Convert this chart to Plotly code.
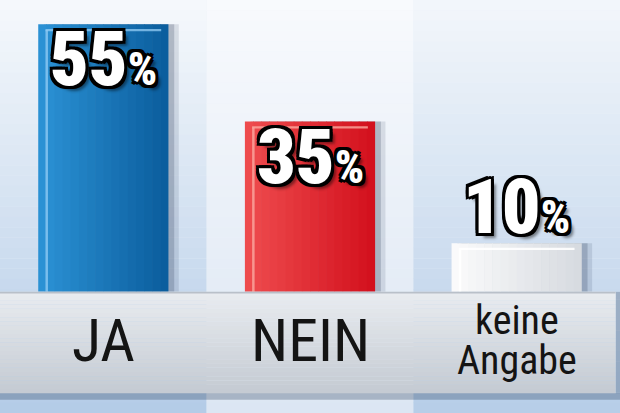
import plotly.graph_objects as go

# --- data -------------------------------------------------------------
categories = ["JA", "NEIN", "keine\nAngabe"]
values = [55, 35, 10]
value_text = ["55", "35", "10"]

# --- styling ----------------------------------------------------------
W, H = 620, 413
y_max, y_min = 60, -24.9
bar_w = 0.63
n_slices = 16

bar_left = ["#2c93d6", "#ef4d4f", "#fbfbfc"]
bar_right = ["#0a5c9c", "#d20f1c", "#d6dadf"]
stripe_col = ["rgba(150,205,245,0.75)", "rgba(250,170,160,0.8)", "rgba(255,255,255,0.9)"]
FONT = "Roboto Condensed, Roboto, sans-serif"


def hx(s):
    return tuple(int(s[i:i + 2], 16) for i in (1, 3, 5))


def mix(c1, c2, t):
    a, b = hx(c1), hx(c2)
    return "#%02x%02x%02x" % tuple(round(p + (q - p) * t) for p, q in zip(a, b))


fig = go.Figure()

# soft shadow right of the bars
for dx, op in [(0.05, 0.12), (0.028, 0.2)]:
    fig.add_trace(go.Bar(
        x=categories, y=values, offset=-bar_w / 2 + dx, width=bar_w,
        marker=dict(color="rgba(25,40,70,%s)" % op, line=dict(width=0)),
        hoverinfo="skip", showlegend=False))

# bars, drawn as thin vertical slices to get the glossy gradient
for i in range(n_slices):
    t = (i + 0.5) / n_slices
    w = bar_w / n_slices + (0.003 if i < n_slices - 1 else 0)
    fig.add_trace(go.Bar(
        x=categories, y=values, offset=-bar_w / 2 + i * bar_w / n_slices, width=w,
        marker=dict(color=[mix(l, r, t) for l, r in zip(bar_left, bar_right)],
                    line=dict(width=0)),
        hoverinfo="skip", showlegend=False))

# light vertical stripe near the left edge
fig.add_trace(go.Bar(
    x=categories, y=[v - 1.2 for v in values], offset=-bar_w / 2 + 0.035, width=0.012,
    marker=dict(color=stripe_col, line=dict(width=0)),
    hoverinfo="skip", showlegend=False))
# light line along the top
fig.add_trace(go.Bar(
    x=categories, y=[0.45] * len(values), base=[v - 1.4 for v in values],
    offset=-bar_w / 2 + 0.035, width=bar_w - 0.07,
    marker=dict(color=stripe_col, line=dict(width=0)),
    hoverinfo="skip", showlegend=False))

shapes = []

# background columns with vertical gradient
col_top = ["#f6f9fc", "#f8fafd", "#f3f7fb"]
col_bot = ["#b3cbe7", "#dce6f3", "#b6cde8"]
n_bands = 40
for c in range(3):
    for j in range(n_bands):
        y0 = y_max - (y_max - y_min) * j / n_bands
        y1 = y_max - (y_max - y_min) * (j + 1) / n_bands
        shapes.append(dict(type="rect", xref="x", yref="y", layer="below",
                           x0=c - 0.5, x1=c + 0.5, y0=y0, y1=y1 - 0.05,
                           fillcolor=mix(col_top[c], col_bot[c], (j + 0.5) / n_bands),
                           line=dict(width=0)))

# grey label band below the bars
band_top, band_bot = 0, -20.8
shapes.append(dict(type="rect", xref="paper", yref="y", layer="above",
                   x0=0, x1=1.0, y0=band_bot - 1.4, y1=band_bot,
                   fillcolor="rgba(30,50,80,0.28)", line=dict(width=0)))
shapes.append(dict(type="rect", xref="paper", yref="y", layer="above",
                   x0=0.993, x1=1.0, y0=band_bot, y1=band_top,
                   fillcolor="rgba(30,50,80,0.25)", line=dict(width=0)))
n_b = 24
for j in range(n_b):
    y0 = band_top + (band_bot - band_top) * j / n_b
    y1 = band_top + (band_bot - band_top) * (j + 1) / n_b
    shapes.append(dict(type="rect", xref="paper", yref="y", layer="above",
                       x0=0, x1=0.993, y0=y0, y1=y1 - 0.02,
                       fillcolor=mix("#e9ecf0", "#c4cad2", (j + 0.5) / n_b),
                       line=dict(width=0)))
shapes.append(dict(type="rect", xref="paper", yref="y", layer="above",
                   x0=0, x1=0.993, y0=band_top - 0.35, y1=band_top,
                   fillcolor="#b9c0c9", line=dict(width=0)))

outline = ("-3px -3px 0 #000, 3px -3px 0 #000, -3px 3px 0 #000, 3px 3px 0 #000, "
           "0 -3px 0 #000, 0 3px 0 #000, -3px 0 0 #000, 3px 0 0 #000, "
           "5px 5px 3px rgba(0,0,0,0.45)")

annotations = []
for cat, v, txt in zip(categories, values, value_text):
    inside = v > 20
    annotations.append(dict(
        x=cat, y=v, xref="x", yref="y", showarrow=False,
        yanchor="middle", yshift=-35 if inside else 36,
        text=txt + "<span style='font-size:46px'>%</span>",
        font=dict(family=FONT, size=76, color="white",
                  weight=900, shadow=outline)))
    lines = cat.split("\n")
    size = 60 if len(lines) == 1 else 40
    for k, line in enumerate(lines):
        annotations.append(dict(
            x=cat, y=-9.9, xref="x", yref="y", showarrow=False, yanchor="middle",
            yshift=(len(lines) - 1) * 20 - k * 40,
            text=line,
            font=dict(family=FONT, size=size, color="#141414", weight=400)))

fig.update_layout(
    width=W, height=H,
    margin=dict(l=0, r=0, t=0, b=0),
    barmode="overlay",
    paper_bgcolor="#eef3f9", plot_bgcolor="rgba(0,0,0,0)",
    shapes=shapes, annotations=annotations,
    showlegend=False,
    xaxis=dict(range=[-0.5, 2.5], visible=False, fixedrange=True),
    yaxis=dict(range=[y_min, y_max], visible=False, fixedrange=True),
)

fig.write_html("out.html", config=dict(displayModeBar=False),
               post_script="document.body.style.margin='0';")
